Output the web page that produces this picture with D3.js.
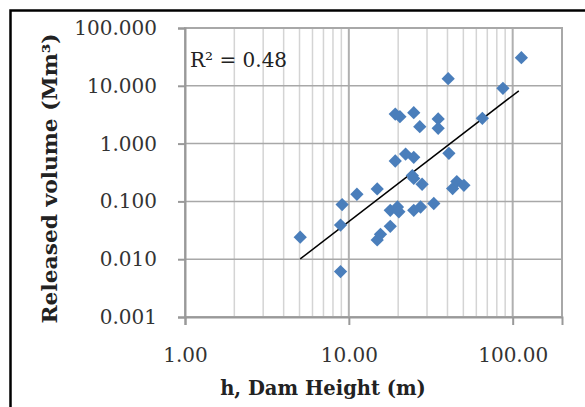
<!DOCTYPE html>
<html lang="en">
	<head>
		<meta charset="utf-8">
		<title>released volume vs dam height</title>
		<script src="https://cdn.jsdelivr.net/npm/d3@7"></script>
		<style type="text/css">
			body { margin:0; background:white; }
			text { font-family: "DejaVu Serif", serif; }
		</style>
	</head>
	<body>

		<script type="text/javascript" charset="utf-8">

		//data
		var heights = [5.05, 8.9, 8.9, 9.1, 11.2, 14.9, 14.9, 15.6, 17.9, 17.9, 19.8, 20.2, 24.9, 27.4, 33,
			19.2, 22.2, 24.9, 24.4, 24.9, 28, 40.8, 43, 45.6, 50.4,
			19.2, 20.5, 24.9, 27.1, 35.1, 35.1, 40.4, 65.3, 87.2, 113]
		var volumes = [0.024, 0.0061, 0.039, 0.088, 0.133, 0.164, 0.0215, 0.027, 0.037, 0.070, 0.080, 0.066, 0.070, 0.080, 0.092,
			0.50, 0.66, 0.58, 0.28, 0.25, 0.198, 0.68, 0.167, 0.22, 0.19,
			3.25, 2.92, 3.43, 1.96, 2.67, 1.84, 13.3, 2.74, 9.06, 30.6]
		var trendEnds = [[5.05, 0.0101], [109, 8.2]]
		var xTicks = [1, 10, 100]
		var yTicks = [0.001, 0.01, 0.1, 1, 10, 100]
		var rSquared = 'R² = 0.48'

		var points = heights.map(function(h, i) { return [h, volumes[i]] })

		var canvas = d3.select('body').append('svg').attr('width', 585).attr('height', 407)

		var x = d3.scaleLog().domain([1, 200]).range([185, 562])
		var y = d3.scaleLog().domain([0.001, 100]).range([317, 28])

		// frame lines of the figure (top + left only)
		canvas.append('path')
			.attr('d', 'M10.5,407 L10.5,10.5 L585,10.5')
			.attr('fill', 'none')
			.attr('stroke', 'black')
			.attr('stroke-width', 2.5)

		//////////////////////////// GRID ////////////////////////////
		var minorX = []
		xTicks.forEach(function(t) {
			for (var k = 2; k <= 9; k++) { if (t * k < 200) minorX.push(t * k) }
		})

		canvas.append('g').selectAll('line').data(minorX).enter().append('line')
			.attr('x1', function(d) { return x(d) }).attr('x2', function(d) { return x(d) })
			.attr('y1', y(100)).attr('y2', y(0.001))
			.attr('stroke', '#d4d4d4').attr('stroke-width', 1.5)

		canvas.append('g').selectAll('line').data(xTicks.slice(1)).enter().append('line')
			.attr('x1', function(d) { return x(d) }).attr('x2', function(d) { return x(d) })
			.attr('y1', y(100)).attr('y2', y(0.001))
			.attr('stroke', '#b0b0b0').attr('stroke-width', 2)

		canvas.append('g').selectAll('line').data(yTicks.slice(1, -1)).enter().append('line')
			.attr('x1', x(1)).attr('x2', x(200))
			.attr('y1', function(d) { return y(d) }).attr('y2', function(d) { return y(d) })
			.attr('stroke', '#a8a8a8').attr('stroke-width', 1.5)

		// plot area border
		canvas.append('rect')
			.attr('x', x(1)).attr('y', y(100))
			.attr('width', x(200) - x(1)).attr('height', y(0.001) - y(100))
			.attr('fill', 'none').attr('stroke', '#a8a8a8').attr('stroke-width', 2)

		//////////////////////////// AXES ////////////////////////////
		var yAxis = canvas.append('g')
			.attr('transform', 'translate(' + x(1) + ',0)')
			.call(d3.axisLeft(y).tickValues(yTicks).tickSize(7).tickPadding(21)
				.tickFormat(function(d) { return d3.format('.3f')(d) }))
		var xAxis = canvas.append('g')
			.attr('transform', 'translate(0,' + y(0.001) + ')')
			.call(d3.axisBottom(x).tickValues(xTicks).tickSize(8).tickPadding(23)
				.tickFormat(function(d) { return d3.format('.2f')(d) }))

		canvas.selectAll('.domain').attr('stroke', '#999').attr('stroke-width', 2)
		canvas.selectAll('.tick line').attr('stroke', '#999').attr('stroke-width', 2)
		canvas.selectAll('.tick text')
			.attr('font-family', '"DejaVu Serif", serif')
			.attr('font-size', 20)
			.attr('fill', '#333')

		//////////////////////////// MARKS ////////////////////////////
		canvas.append('path')
			.datum(trendEnds)
			.attr('d', d3.line().x(function(d) { return x(d[0]) }).y(function(d) { return y(d[1]) }))
			.attr('stroke', 'black').attr('stroke-width', 1.5).attr('fill', 'none')

		var diamond = d3.symbol().type(d3.symbolSquare).size(88)
		canvas.append('g').selectAll('path').data(points).enter().append('path')
			.attr('d', diamond)
			.attr('transform', function(d) { return 'translate(' + x(d[0]) + ',' + y(d[1]) + ') rotate(45)' })
			.attr('fill', '#4a7ebb')

		canvas.append('text')
			.attr('x', 190).attr('y', 67)
			.attr('font-size', 20)
			.attr('fill', '#222')
			.text(rSquared)

		//////////////////////////// TITLES ////////////////////////////
		canvas.append('text')
			.attr('x', 323).attr('y', 395)
			.attr('text-anchor', 'middle')
			.attr('font-size', 19.5)
			.attr('font-weight', 'bold')
			.attr('fill', '#222')
			.text('h, Dam Height (m)')

		canvas.append('text')
			.attr('transform', 'translate(57,178.5) rotate(-90)')
			.attr('text-anchor', 'middle')
			.attr('font-size', 20.5)
			.attr('font-weight', 'bold')
			.attr('fill', '#222')
			.attr('textLength', 290)
			.attr('lengthAdjust', 'spacingAndGlyphs')
			.text('Released volume (Mm³)')

		</script>
	</body>

</html>
